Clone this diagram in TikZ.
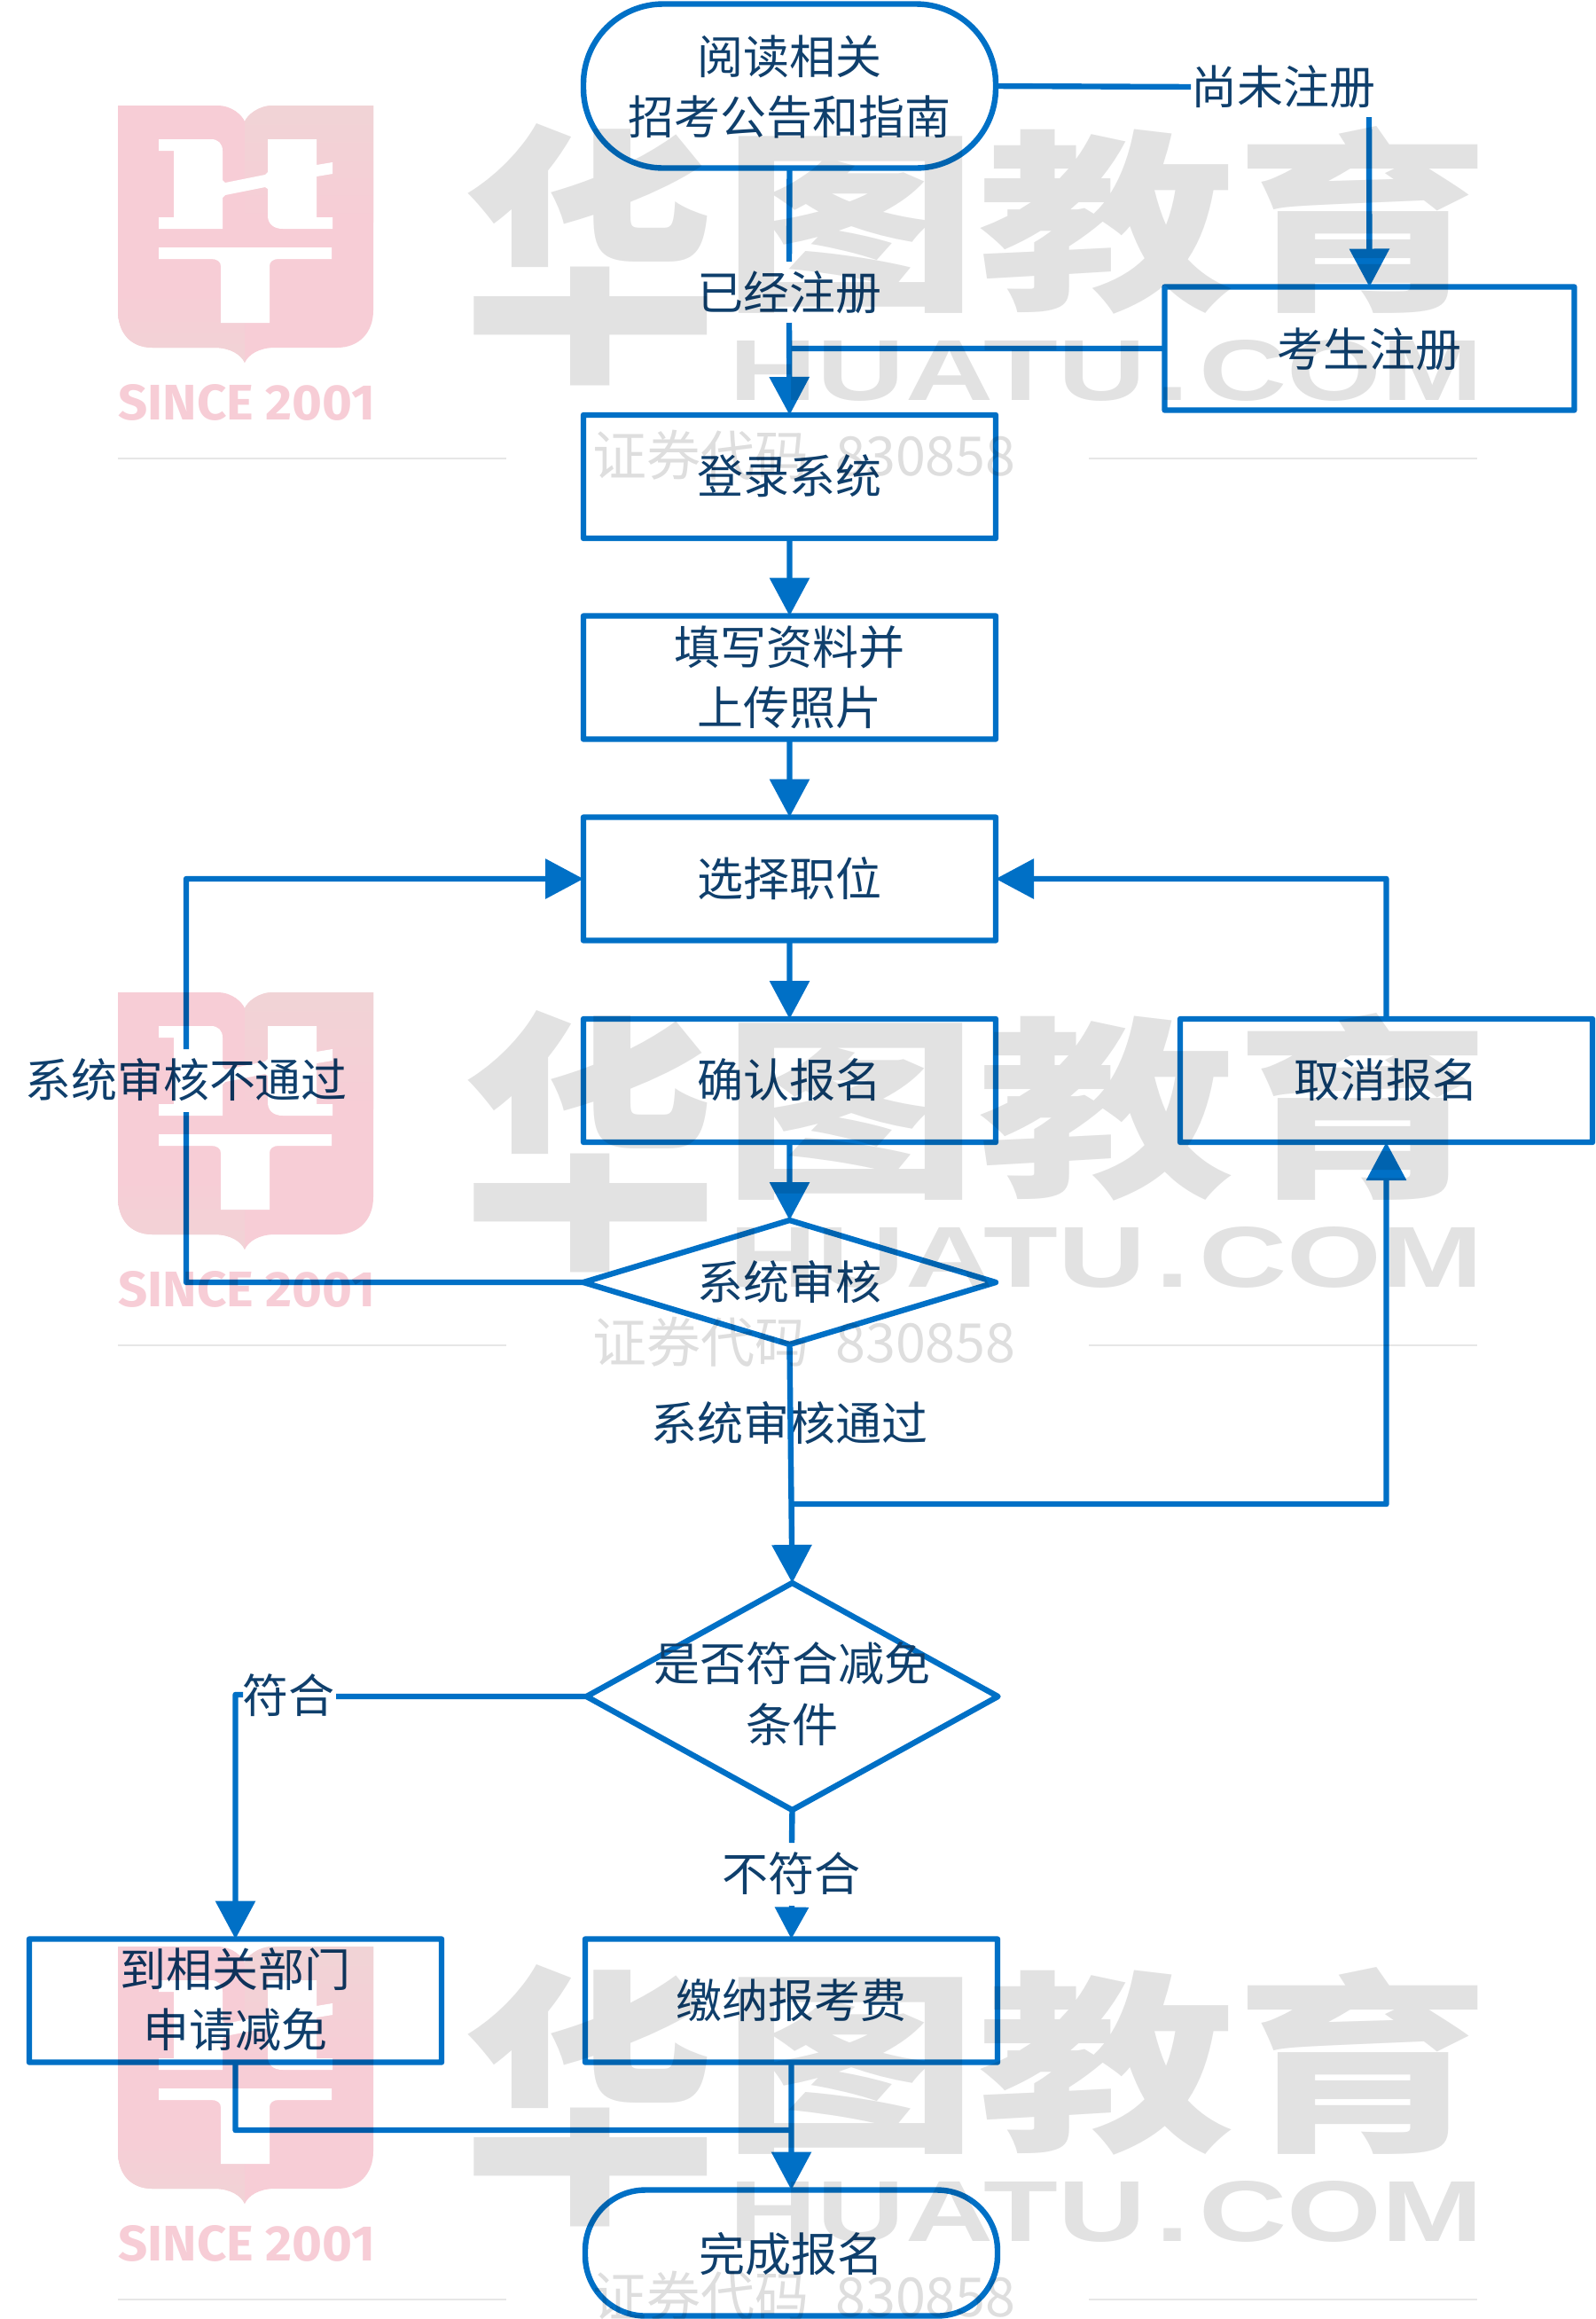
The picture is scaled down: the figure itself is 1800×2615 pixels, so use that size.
\documentclass[tikz,border=0pt]{standalone}
\usepackage{fontspec}
\setmainfont{Noto Sans CJK SC}
\newfontfamily\latinbold{Liberation Sans}
\newfontfamily\sincefont{Fira Sans}
\usetikzlibrary{arrows.meta,shapes.geometric}
\definecolor{lineblue}{HTML}{0070C6}
\definecolor{inkblue}{HTML}{0F3F6C}
\definecolor{wmgray}{HTML}{E2E2E2}
\definecolor{wmcode}{HTML}{DEDEDE}
\definecolor{wmrule}{HTML}{E6E6E6}
\definecolor{wmpink}{HTML}{F7CDD6}
\definecolor{wmpale}{HTML}{F0D4D6}
\tikzset{
  conn/.style={draw=lineblue,line width=3.2pt,line join=round},
  arr/.style={conn,-{Triangle[length=21.5pt,width=22pt]}},
  shortarr/.style={conn,-{Triangle[length=18pt,width=18.5pt]}},
  stepbox/.style={draw=lineblue,line width=3.2pt,line join=round,rectangle,inner sep=0pt,outer sep=0pt,
     minimum width=232.5pt,minimum height=69.5pt},
  termbox/.style={stepbox,rounded corners=#1},
  decide/.style={draw=lineblue,line width=3.2pt,line join=round,diamond,inner sep=0pt,outer sep=0pt},
  txt/.style={inner sep=0pt,outer sep=0pt,align=center,text=inkblue,
     font=\fontsize{26pt}{34.2pt}\selectfont},
}
\newcommand{\wmark}[1]{%
\begin{scope}[shift={(0,#1)}]
  % big wordmark
  \node[inner sep=0pt,text=wmgray,font=\fontsize{145pt}{145pt}\selectfont\bfseries] (wmA#1) at (665,287)
     {\resizebox{143pt}{133pt}{华}};
  \node[inner sep=0pt,text=wmgray,font=\fontsize{145pt}{145pt}\selectfont\bfseries] (wmE#1) at (1248,248)
     {\resizebox{434pt}{95pt}{图教育}};
  \node[inner sep=0pt,text=wmgray] (wmB#1) at (1248,418)
     {\resizebox{425pt}{34pt}{\latinbold\bfseries HUATU\hspace{.08em}.\hspace{.08em}COM}};
  \node[inner sep=0pt,text=wmcode,font=\fontsize{30.5pt}{30pt}\selectfont,anchor=west] (wmC#1) at (668,513)
     {证券代码\hspace{15pt}830858};
  \draw[wmrule,line width=1pt] (133,517) -- (571,517);
  \draw[wmrule,line width=1pt] (1228,517) -- (1666,517);
  % shield
  \begin{scope}
    \path[clip] (133,119) -- (245,119) .. controls (262,119) and (273,130) .. (276,137)
      .. controls (279,130) and (291,119) .. (308,119) -- (421,119) -- (421,350)
      .. controls (421,375) and (405,392) .. (380,392) -- (310,392)
      .. controls (292,392) and (280,400) .. (276,409)
      .. controls (272,400) and (260,392) .. (242,392) -- (172,392)
      .. controls (147,392) and (133,375) .. (133,350) -- cycle;
    \fill[wmpink] (120,110) rectangle (430,420);
    \shade[top color=wmpale,bottom color=wmpink] (276,110) rectangle (430,250);
    \shade[top color=wmpink,bottom color=wmpale] (120,330) rectangle (276,420);
  \end{scope}
  \fill[white,line join=round] (179,157) -- (238,157) .. controls (246,157) and (251,162) .. (251,170)
      -- (251,203) -- (254,206) -- (299,197) -- (302,194) -- (302,157) -- (357,157) -- (357,186)
      -- (375,183) -- (375,196) -- (357,199) -- (357,245) -- (375,245) -- (375,258) -- (319,258)
      .. controls (308,258) and (302,252) .. (302,243) -- (302,213) -- (299,211) -- (254,220)
      -- (251,223) -- (251,258) -- (179,258) -- (179,245) -- (196,245) -- (196,170) -- (179,170) -- cycle;
  \fill[white] (179,279) -- (374,279) -- (374,292) -- (314,292) .. controls (308,292) and (304,295) .. (304,300)
      -- (304,364) -- (249,364) -- (249,300) .. controls (249,295) and (245,292) .. (238,292)
      -- (179,292) -- cycle;
  \node[inner sep=0pt,text=wmpink,anchor=west] (wmD#1) at (133,454)
     {\resizebox{145pt}{20pt}{\sincefont\bfseries SINCE 2001}};
\end{scope}}
\begin{document}
\begin{tikzpicture}[x=0.5pt,y=-0.5pt]
\useasboundingbox (0,0) rectangle (1800,2615);
\fill[white] (0,0) rectangle (1800,2615);
\wmark{0}
\wmark{1000}
\wmark{2076}
\begin{scope}[blend mode=multiply]
\begin{scope}[transparency group]
  % shapes
  \node[termbox=45pt,minimum height=92.5pt] (read) at (890.5,97) {};
  \node[stepbox,minimum width=231pt] (reg) at (1544.5,393) {};
  \node[stepbox] (login) at (890.5,537.5) {};
  \node[stepbox] (fill) at (890.5,764) {};
  \node[stepbox] (pick) at (890.5,991) {};
  \node[stepbox] (confirm) at (890.5,1218.5) {};
  \node[stepbox] (cancel) at (1563.5,1218.5) {};
  \node[decide,minimum width=232.5pt,minimum height=70pt] (audit) at (890.5,1446) {};
  \node[decide,minimum width=232pt,minimum height=128pt] (cond) at (893.5,1913) {};
  \node[stepbox] (dept) at (265.5,2256) {};
  \node[stepbox] (pay) at (892.5,2256) {};
  \node[termbox=34pt,minimum height=71pt] (done) at (892.5,2540.5) {};
  % labels
  \node[txt] (t1) at (890.5,98) {阅读相关\\招考公告和指南};
  \node[txt] (t2) at (1544,394) {考生注册};
  \node[txt] (t3) at (890.5,537) {登录系统};
  \node[txt] (t4) at (890.5,764) {填写资料并\\上传照片};
  \node[txt] (t5) at (890.5,991) {选择职位};
  \node[txt] (t6) at (890.5,1218) {确认报名};
  \node[txt] (t7) at (1563.5,1218) {取消报名};
  \node[txt] (t8) at (890.5,1446) {系统审核};
  \node[txt] (t9) at (893,1910) {是否符合减免\\条件};
  \node[txt] (t10) at (265.5,2255) {到相关部门\\申请减免};
  \node[txt] (t11) at (892.5,2256) {缴纳报考费};
  \node[txt] (t12) at (892.5,2542) {完成报名};
  \node[txt] (lnot) at (1447,98) {尚未注册};
  \node[txt] (lyes) at (890,330) {已经注册};
  \node[txt] (lfail) at (210,1218) {系统审核不通过};
  \node[txt] (lpass) at (890,1605) {系统审核通过};
  \node[txt] (lfit) at (325,1912) {符合};
  \node[txt] (lunfit) at (892.5,2113) {不符合};
  % free ends of the connectors, where they stop short of a label
  \coordinate (aA) at (890,295);
  \coordinate (aB) at (890,364);
  \coordinate (bA) at (1544,132);
  \coordinate (cA) at (210,1183);
  \coordinate (cB) at (210,1254);
  \coordinate (dA) at (891,1696);
  \coordinate (eA) at (379,1913);
  \coordinate (eB) at (274,1911);
  \coordinate (fA) at (893,2078);
  \coordinate (fB) at (893,2149);
  % connectors
  \draw[conn] (read.east) -- (lnot.west);
  \draw[arr] (bA) -- (reg.north);
  \draw[conn] (read.south) -- (aA);
  \draw[arr] (aB) -- (login.north);
  \draw[conn] (reg.west) -- (reg.west -| login.north);
  \draw[arr] (login.south) -- (fill.north);
  \draw[arr] (fill.south) -- (pick.north);
  \draw[arr] (pick.south) -- (confirm.north);
  \draw[arr] (confirm.south) -- (audit.north);
  \draw[conn] (audit.west) -| (cB);
  \draw[arr] (cA) |- (pick.west);
  \draw[arr] (cancel.north) |- (pick.east);
  \draw[arr] (audit.south) -- (cond.north);
  \draw[arr] (dA) -| (cancel.south);
  \draw[conn] (cond.west) -- (eA);
  \draw[arr] (eB) -- (eB -| dept.north) -- (dept.north);
  \draw[conn] (cond.south) -- (fA);
  \draw[shortarr] (fB) -- (pay.north);
  \draw[arr] (pay.south) -- (done.north);
  \draw[conn] (dept.south) |- (pay.south |- 0,2402);
\end{scope}
\end{scope}
\end{tikzpicture}
\end{document}
